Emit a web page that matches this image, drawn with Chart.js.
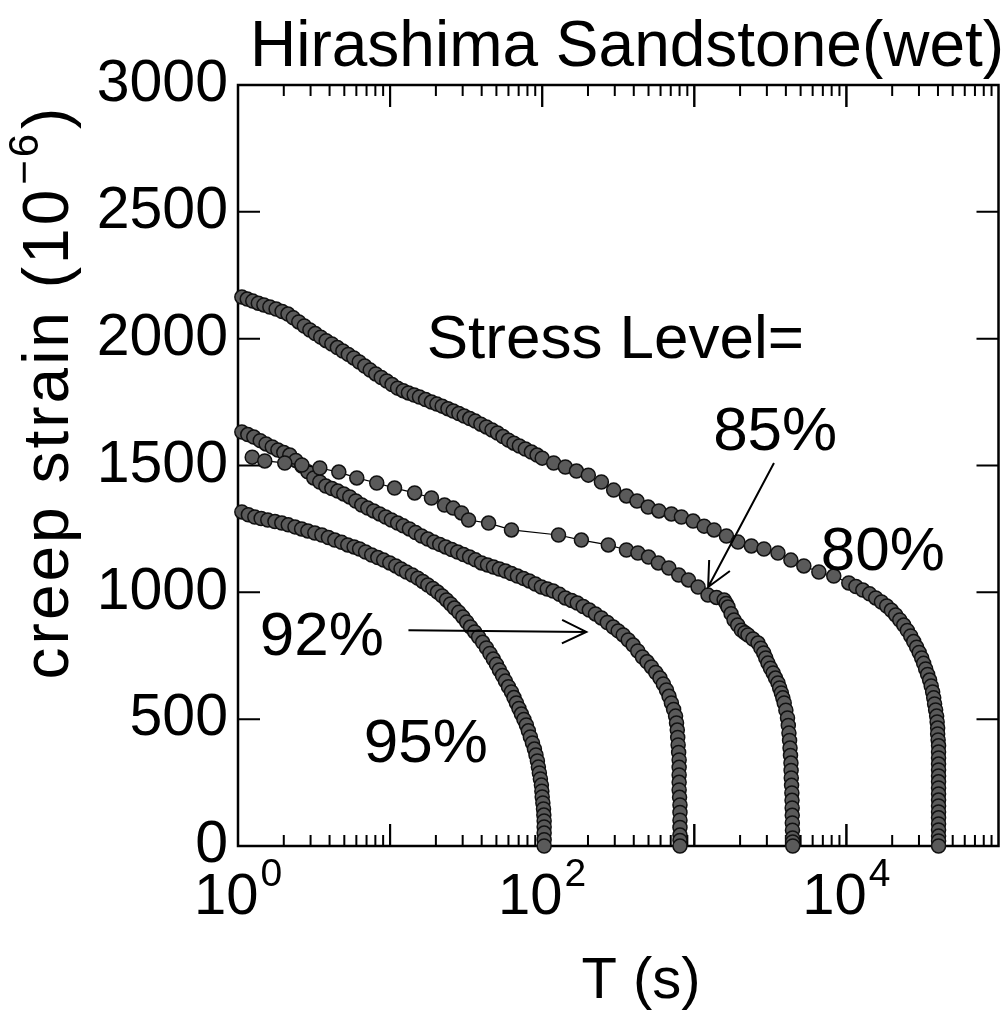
<!DOCTYPE html>
<html><head><meta charset="utf-8">
<script src="https://cdn.jsdelivr.net/npm/chart.js@4.4.1/dist/chart.umd.min.js"></script>
<style>html,body{margin:0;padding:0;background:#fff;}#wrap{width:1007px;height:1017px;}</style>
</head><body><div id="wrap"><canvas id="c" width="1007" height="1017"></canvas></div>
<script>
const FONT = '"Liberation Sans", Arial, Helvetica, sans-serif';
const chartTitle = 'Hirashima Sandstone(wet)';
const xTitle = 'T (s)';
const yTitleMain = 'creep strain (10';
const yTitleSup = '\u22126';
const yTitleEnd = ')';
const yTicks = [0, 500, 1000, 1500, 2000, 2500, 3000];
const xDecades = [1, 10, 100, 1000, 10000, 100000];
const xLabelValues = [1, 100, 10000];
const xLabelExps = ['0', '2', '4'];

// 80% stress level
const T80 = [1.06,1.15,1.25,1.36,1.48,1.62,1.78,1.95,2.13,2.31,2.51,2.73,2.97,3.22,3.50,3.80,4.14,4.50,4.89,5.31,5.77,6.27,6.81,7.40,8.05,8.75,9.50,10.3,11.2,12.2,13.2,14.4,15.6,17.1,18.7,20.3,22.0,24.0,26.0,28.3,30.7,33.4,36.3,39.5,43.0,46.8,50.8,55.2,60.0,65.2,70.8,77.5,84.9,92.5,100,119,142,168,201,245,295,358,420,497,585,707,823,982,1160,1349,1626,1937,2373,2870,3548,4315,5250,6590,8260,10370,11550,12820,14200,15590,17000,18410,19750,21090,22450,23830,25150,26480,27700,28970,30100,31260,32200,33200,34200,35240,36100,36900,37500,38000,38600,39200,39500,39800,39800,40100,40360,40360,40360,40360,40360,40360,40360,40360,40360,40360,40360,40360,40360,40360,40360,40360,40360,40360];
const S80 = [2164,2156,2148,2140,2133,2125,2117,2107,2097,2082,2066,2050,2034,2020,2006,1992,1979,1965,1951,1938,1924,1908,1892,1876,1861,1847,1833,1819,1805,1795,1786,1778,1770,1760,1750,1742,1734,1724,1715,1705,1695,1685,1675,1663,1652,1640,1628,1614,1600,1588,1577,1565,1553,1541,1529,1510,1494,1478,1462,1435,1403,1380,1360,1336,1321,1309,1297,1281,1261,1246,1222,1198,1183,1171,1155,1127,1104,1080,1064,1037,1023,1009,994,978,962,946,929,911,891,871,850,828,806,784,763,741,720,698,676,654,631,607,584,560,536,512,489,465,442,418,395,371,347,323,300,276,253,229,205,181,158,134,111,87,63,39,20,0];
// 85% stress level
const T85 = [1.24,1.50,2.03,2.63,3.45,4.60,6.04,8.17,10.7,14.5,18.7,22.8,26.0,29.5,32.8,44.4,62.8,128,181,272,358,426,500,580,680,790,915,1059,1230,1400,1570,1620,1667,1745,1825,1930,2040,2150,2254,2430,2623,2740,2860,2950,3050,3170,3300,3420,3550,3640,3737,3820,3900,4000,4100,4150,4190,4230,4260,4290,4320,4330,4340,4360,4380,4390,4400,4405,4410,4420,4430,4435,4440];
const S85 = [1533,1518,1510,1502,1490,1474,1451,1431,1411,1392,1372,1344,1332,1313,1285,1273,1246,1226,1206,1187,1167,1155,1139,1116,1096,1068,1049,1021,989,980,970,956,942,916,891,871,851,841,832,816,800,780,761,741,721,701,682,662,643,623,603,584,564,535,505,475,445,416,386,357,327,298,268,239,209,180,150,121,91,62,32,16,0];
// 92% stress level
const T92 = [1.06,1.16,1.27,1.40,1.53,1.68,1.83,2.0,2.19,2.40,2.63,2.88,3.15,3.45,3.78,4.14,4.53,4.96,5.43,5.95,6.51,7.13,7.80,8.54,9.35,10.2,11.2,12.2,13.4,14.7,16.1,17.7,19.4,21.2,23.2,25.4,27.8,30.4,33.3,36.4,39.9,43.7,47.8,52.3,57.3,62.7,68.7,75.2,82.3,90.2,98.8,108,118,130,142,156,170,186,204,224,245,268,293,316,341,368,396,425,456,489,523,558,595,626,656,682,707,731,753,764,773,778,783,789,795,795,795,795,795,800,805,805,805,805,805,805,805];
const S92 = [1632,1622,1612,1598,1585,1573,1561,1551,1541,1520,1498,1475,1451,1435,1419,1409,1399,1388,1376,1360,1344,1332,1321,1309,1297,1285,1273,1262,1250,1236,1222,1210,1198,1189,1179,1169,1159,1149,1139,1128,1116,1108,1100,1092,1084,1074,1064,1055,1045,1033,1021,1013,1005,992,978,968,958,944,930,915,899,881,863,848,832,812,792,769,745,726,706,684,662,639,615,590,564,538,512,485,457,428,398,369,339,310,280,251,221,192,162,132,102,73,43,22,0];
// 95% stress level
const T95 = [1.06,1.17,1.29,1.42,1.57,1.75,1.94,2.14,2.37,2.62,2.88,3.2,3.56,3.93,4.33,4.8,5.27,5.8,6.30,6.9,7.57,8.3,9.07,9.95,10.9,11.8,12.8,14.0,15.2,16.4,17.7,19.1,20.5,22.0,23.5,25.0,26.5,28.3,30.1,31.9,33.8,36.0,38.2,40.6,43.0,45.3,47.7,50.0,52.3,54.8,57.3,60.0,62.8,65.2,67.7,70.3,73.0,75.8,78.7,81.1,83.6,86.3,88.9,91.0,93.0,94.4,95.8,97.3,98.8,99.5,100,101,102,102.5,103,103,103,103,103];
const S95 = [1317,1306,1297,1291,1285,1279,1273,1266,1258,1250,1242,1234,1226,1216,1206,1197,1187,1179,1171,1159,1147,1137,1127,1116,1104,1092,1080,1068,1056,1043,1029,1015,1001,986,970,954,938,921,903,883,863,844,824,803,781,759,737,716,694,672,650,628,607,585,564,542,520,499,477,454,430,406,382,359,335,311,288,264,240,216,193,170,146,122,99,75,51,25,0];

// annotations (data coordinates: T in s, strain)
const annoTexts = ['Stress Level=', '85%', '80%', '92%', '95%'];
const annoX = [17.4, 1330, 6790, 1.39, 6.71];
const annoY = [1924, 1561, 1088, 753, 331];
const arrowFromX = [3340, 13.2];
const arrowFromY = [1510, 851];
const arrowToX = [1233, 195];
const arrowToY = [1021, 844];

function pts(T, S) { return T.map((t, i) => ({ x: t, y: S[i] })); }
function ds(T, S) {
  return {
    data: pts(T, S), showLine: true, borderColor: '#000', borderWidth: 1.2,
    pointRadius: 7, pointBackgroundColor: '#5a5a5a', pointBorderColor: '#111',
    pointBorderWidth: 1.5, clip: false, tension: 0
  };
}

const framePlugin = {
  id: 'frame',
  beforeDatasetsDraw(chart) {
    const { ctx, chartArea: a, scales: { x, y } } = chart;
    ctx.save();
    ctx.strokeStyle = '#000';
    ctx.lineWidth = 2;
    for (let i = 0; i < xDecades.length - 1; i++) {
      const d = xDecades[i];
      for (let k = 1; k <= 10; k++) {
        const v = d * k;
        const px = x.getPixelForValue(v);
        if (px <= a.left + 1 || px >= a.right - 1) continue;
        const len = (k === 1 || k === 10) ? 22 : 11;
        ctx.beginPath();
        ctx.moveTo(px, a.bottom); ctx.lineTo(px, a.bottom - len);
        ctx.moveTo(px, a.top); ctx.lineTo(px, a.top + len);
        ctx.stroke();
      }
    }
    yTicks.forEach(v => {
      const py = y.getPixelForValue(v);
      if (py <= a.top + 1 || py >= a.bottom - 1) return;
      ctx.beginPath();
      ctx.moveTo(a.left, py); ctx.lineTo(a.left + 22, py);
      ctx.moveTo(a.right, py); ctx.lineTo(a.right - 22, py);
      ctx.stroke();
    });
    ctx.lineWidth = 2.5;
    ctx.strokeRect(a.left, a.top, a.right - a.left, a.bottom - a.top);
    ctx.restore();
  },
  afterDatasetsDraw(chart) {
    const { ctx, chartArea: a, scales: { x, y } } = chart;
    ctx.save();
    ctx.fillStyle = '#000';
    ctx.strokeStyle = '#000';
    ctx.font = '64px ' + FONT;
    ctx.textAlign = 'left';
    ctx.textBaseline = 'alphabetic';
    ctx.fillText(chartTitle, a.left + 12, 66);
    ctx.font = '59px ' + FONT;
    ctx.textAlign = 'right';
    ctx.textBaseline = 'middle';
    yTicks.forEach(v => ctx.fillText(String(v), a.left - 10, y.getPixelForValue(v)));
    ctx.textAlign = 'left';
    ctx.textBaseline = 'alphabetic';
    xLabelValues.forEach((v, i) => {
      ctx.font = '58px ' + FONT;
      const w1 = ctx.measureText('10').width;
      ctx.font = '39px ' + FONT;
      const w2 = ctx.measureText(xLabelExps[i]).width;
      const px = x.getPixelForValue(v);
      const sx = px - (w1 + w2 + 2) / 2;
      ctx.font = '58px ' + FONT;
      ctx.fillText('10', sx, 914);
      ctx.font = '39px ' + FONT;
      ctx.fillText(xLabelExps[i], sx + w1 + 2, 886);
    });
    ctx.font = '58px ' + FONT;
    ctx.textAlign = 'center';
    ctx.fillText(xTitle, a.left + 403, 998);
    // y title (rotated)
    ctx.save();
    ctx.translate(68, 392);
    ctx.rotate(-Math.PI / 2);
    ctx.textAlign = 'left';
    ctx.letterSpacing = '3px';
    ctx.font = '64px ' + FONT;
    const m1 = ctx.measureText(yTitleMain).width;
    const m3 = ctx.measureText(yTitleEnd).width;
    ctx.font = '42px ' + FONT;
    const m2 = ctx.measureText(yTitleSup).width;
    const sx = -(m1 + m2 + m3 + 4) / 2;
    ctx.font = '64px ' + FONT;
    ctx.fillText(yTitleMain, sx, 0);
    ctx.font = '42px ' + FONT;
    ctx.fillText(yTitleSup, sx + m1 + 2, -30);
    ctx.font = '64px ' + FONT;
    ctx.fillText(yTitleEnd, sx + m1 + m2 + 4, 0);
    ctx.restore();
    ctx.font = '62px ' + FONT;
    ctx.textAlign = 'left';
    annoTexts.forEach((t, i) => ctx.fillText(t, x.getPixelForValue(annoX[i]), y.getPixelForValue(annoY[i])));
    ctx.lineWidth = 2;
    arrowFromX.forEach((fx, i) => {
      const x0 = x.getPixelForValue(fx), y0 = y.getPixelForValue(arrowFromY[i]);
      const x1 = x.getPixelForValue(arrowToX[i]), y1 = y.getPixelForValue(arrowToY[i]);
      const ang = Math.atan2(y1 - y0, x1 - x0);
      const hl = 27, ha = 0.45;
      ctx.beginPath();
      ctx.moveTo(x0, y0); ctx.lineTo(x1, y1);
      ctx.moveTo(x1 - hl * Math.cos(ang - ha), y1 - hl * Math.sin(ang - ha));
      ctx.lineTo(x1, y1);
      ctx.lineTo(x1 - hl * Math.cos(ang + ha), y1 - hl * Math.sin(ang + ha));
      ctx.stroke();
    });
    ctx.restore();
  }
};

new Chart(document.getElementById('c'), {
  type: 'scatter',
  data: { datasets: [ds(T80, S80), ds(T85, S85), ds(T92, S92), ds(T95, S95)] },
  options: {
    responsive: false, animation: false, devicePixelRatio: 1, events: [],
    layout: { padding: { left: 238, right: 7, top: 85, bottom: 171 } },
    plugins: { legend: { display: false }, tooltip: { enabled: false }, title: { display: false } },
    scales: {
      x: { type: 'logarithmic', min: 1, max: 100000, display: false },
      y: { type: 'linear', min: 0, max: 3000, display: false }
    }
  },
  plugins: [framePlugin]
});
</script></body></html>
